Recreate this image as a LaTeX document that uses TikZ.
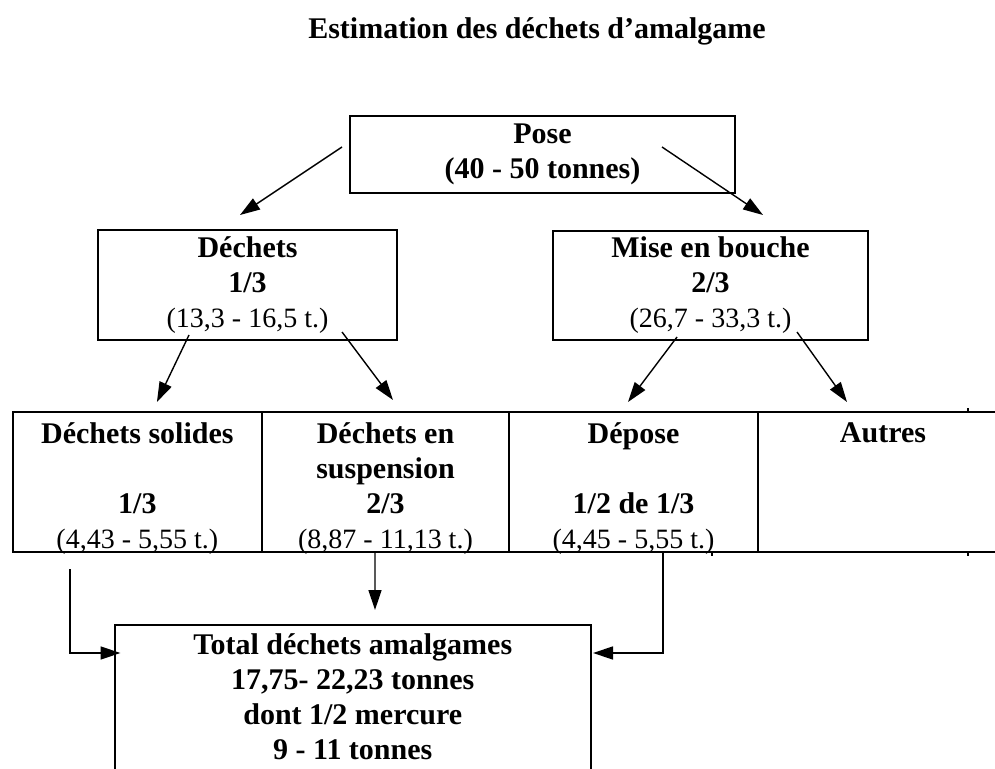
\documentclass[tikz,border=0pt]{standalone}
\usepackage{fontspec}
\setmainfont{Liberation Serif}
\usetikzlibrary{positioning}
\usetikzlibrary{arrows.meta}
\tikzset{node distance=0pt,
box/.style={ % boxes of the tree
draw, line width=1pt, inner sep=0pt, outer sep=0pt, align=center,
font=\bfseries\fontsize{15}{17.5}\selectfont},
cell/.style={ % cells of the table row
draw, line width=1pt, inner sep=0pt, outer sep=0pt,
minimum height=70pt},
celltext/.style={anchor=north, inner sep=0pt, align=center,
font=\bfseries\fontsize{15}{17.5}\selectfont},
flow/.style={ % arrows
-{Triangle[length=10pt,width=6.5pt]}, line width=0.7pt}}
\newcommand{\tonnage}[1]{{\mdseries\fontsize{14}{17.5}\selectfont #1}}

\begin{document}
\begin{tikzpicture}[x=0.5pt, y=-0.5pt]
\useasboundingbox (0,0) rectangle (995,769);
\node[anchor=base, font=\bfseries\fontsize{15}{17.5}\selectfont] (title) at (537,39) {Estimation des déchets d’amalgame};

\node[box, minimum width=192.5pt, minimum height=38.5pt] (pose) at (542.5,154.5) {Pose\\(40 - 50 tonnes)};
\node[box, minimum width=149.5pt, minimum height=55pt] (dechets) at (247.5,285) {Déchets\\1/3\\\tonnage{(13,3 - 16,5 t.)}};
\node[box, minimum width=157.5pt, minimum height=54.5pt] (mise) at (710.5,285.5) {Mise en bouche\\2/3\\\tonnage{(26,7 - 33,3 t.)}};

% table row
\node[cell, minimum width=124.65pt, anchor=north west] (solides) at (12.7,412) {};
\node[cell, minimum width=123.5pt, right=of solides] (suspension) {};
\node[cell, minimum width=124.5pt, right=of suspension] (depose) {};
\node[cell, minimum width=125pt, right=of depose] (autres) {};
\node[celltext] (solidesT) at ([shift={(0,10.4)}]solides.north) {Déchets solides\\ \mbox{}\\1/3\\\tonnage{(4,43 - 5,55 t.)}};
\node[celltext] (suspensionT) at ([shift={(0,10.4)}]suspension.north) {Déchets en\\suspension\\2/3\\\tonnage{(8,87 - 11,13 t.)}};
\node[celltext] (deposeT) at ([shift={(0,10.4)}]depose.north) {Dépose\\ \mbox{}\\1/2 de 1/3\\\tonnage{(4,45 - 5,55 t.)}};
\node[celltext] (autresT) at ([shift={(0,10.4)}]autres.north) {Autres};
\draw[line width=1pt] ([shift={(210,0)}]autres.north west) -- ++(0,-4);
\draw[line width=1pt] ([shift={(210,0)}]autres.south west) -- ++(0,4);
\draw[line width=1pt] ([shift={(78.5,0)}]depose.south) -- ++(0,4);

\node[box, anchor=north west, minimum width=238.25pt, minimum height=85.5pt, text depth=14pt] (total) at (114.5,625) {Total déchets amalgames\\17,75- 22,23 tonnes\\dont 1/2 mercure\\9 - 11 tonnes};

\draw[flow] ([shift={(-8,-7.5)}]pose.west) -- ([shift={(-7.5,-15)}]dechets.north);
\draw[flow] ([shift={(119.5,-7.5)}]pose.center) -- ([shift={(52.5,-16)}]mise.north);
\draw[flow] ([shift={(-58.5,-5)}]dechets.south) -- ([shift={(19.6,-10)}]solides.north);
\draw[flow] ([shift={(94.5,-8)}]dechets.south) -- ([shift={(7.5,-12)}]suspension.north);
\draw[flow] ([shift={(-33.5,-3)}]mise.south) -- ([shift={(-5.5,-10)}]depose.north);
\draw[flow] ([shift={(86.5,-8)}]mise.south) -- ([shift={(-36,-10)}]autres.north);
\draw[flow] ([shift={(-67.4,17)}]solides.south) |- ([shift={(6,28)}]total.north west);
\draw[flow] ([shift={(-10.5,0)}]suspension.south) -- ([shift={(22.25,-15)}]total.north);
\draw[flow] ([shift={(29.5,0)}]depose.south) |- ([shift={(2,28)}]total.north east);
\end{tikzpicture}
\end{document}
